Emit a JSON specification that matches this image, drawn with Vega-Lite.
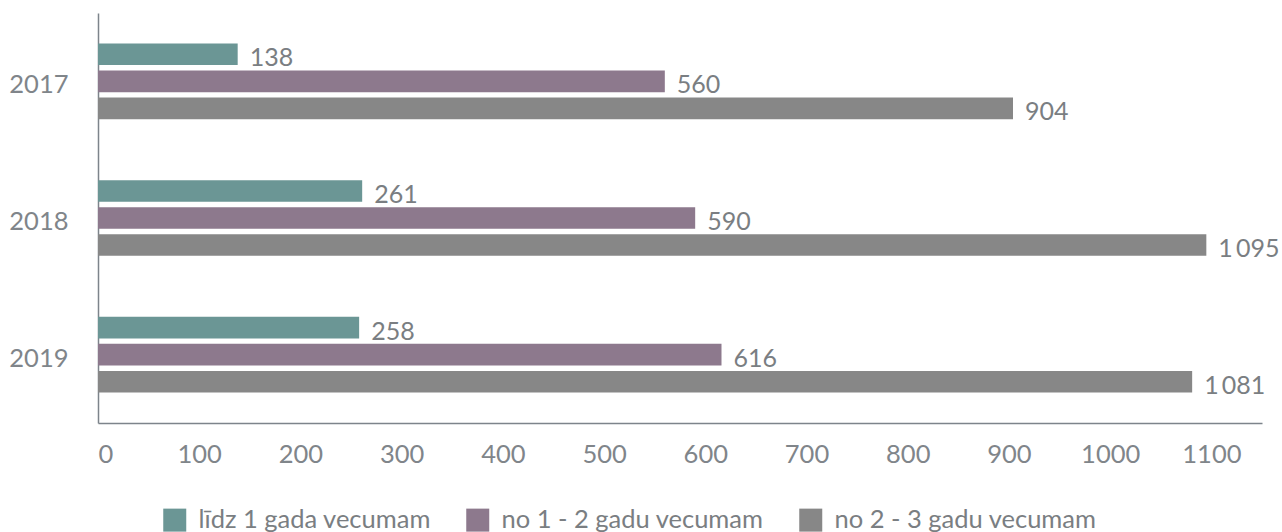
{
  "$schema": "https://vega.github.io/schema/vega-lite/v6.json",
  "width": 1164,
  "height": 410,
  "autosize": "none",
  "padding": {"left": 98, "top": 13, "right": 20, "bottom": 109},
  "config": {
    "locale": {"number": {"decimal": ",", "thousands": "\u2009", "grouping": [3], "currency": ["", ""]}},
    "view": {"stroke": null},
    "font": "Lato"
  },
  "data": {
    "values": [
      {"year": "2017", "group": "līdz 1 gada vecumam", "value": 138},
      {"year": "2017", "group": "no 1 - 2 gadu vecumam", "value": 560},
      {"year": "2017", "group": "no 2 - 3 gadu vecumam", "value": 904},
      {"year": "2018", "group": "līdz 1 gada vecumam", "value": 261},
      {"year": "2018", "group": "no 1 - 2 gadu vecumam", "value": 590},
      {"year": "2018", "group": "no 2 - 3 gadu vecumam", "value": 1095},
      {"year": "2019", "group": "līdz 1 gada vecumam", "value": 258},
      {"year": "2019", "group": "no 1 - 2 gadu vecumam", "value": 616},
      {"year": "2019", "group": "no 2 - 3 gadu vecumam", "value": 1081}
    ]
  },
  "encoding": {
    "y": {
      "field": "year", "type": "nominal", "title": null,
      "scale": {"paddingInner": 0.407, "paddingOuter": 0.2035},
      "axis": {"ticks": false, "domainColor": "#7d848b", "domainWidth": 1.5, "labelFontSize": 25.5, "labelColor": "#80858a", "labelPadding": 30, "labelFontWeight": "normal", "labelOffset": 4}
    },
    "yOffset": {
      "field": "group", "type": "nominal",
      "sort": ["līdz 1 gada vecumam", "no 1 - 2 gadu vecumam", "no 2 - 3 gadu vecumam"],
      "scale": {"paddingInner": 0.2, "paddingOuter": 0.1}
    },
    "x": {
      "field": "value", "type": "quantitative", "title": null,
      "scale": {"domain": [0, 1150], "nice": false},
      "axis": {"values": [0, 100, 200, 300, 400, 500, 600, 700, 800, 900, 1000, 1100], "format": "d", "ticks": false, "grid": false, "domainColor": "#7d848b", "domainWidth": 1.5, "labelFontSize": 25.5, "labelColor": "#80858a", "labelPadding": 19, "labelFontWeight": "normal"}
    }
  },
  "layer": [
    {
      "mark": {"type": "bar"},
      "encoding": {
        "color": {
          "field": "group", "type": "nominal",
          "sort": ["līdz 1 gada vecumam", "no 1 - 2 gadu vecumam", "no 2 - 3 gadu vecumam"],
          "scale": {"domain": ["līdz 1 gada vecumam", "no 1 - 2 gadu vecumam", "no 2 - 3 gadu vecumam"], "range": ["#6b9695", "#8d798d", "#878787"]},
          "legend": {"title": null, "orient": "none", "direction": "horizontal", "legendX": 64, "legendY": 494, "symbolType": "square", "symbolSize": 529, "symbolStrokeWidth": 0, "symbolOpacity": 1, "labelFontSize": 25.5, "labelColor": "#7a7e82", "labelFontWeight": "normal", "labelOffset": 11, "labelLimit": 400, "columnPadding": 34}
        }
      }
    },
    {
      "mark": {"type": "text", "align": "left", "baseline": "middle", "dx": 12, "dy": 4, "fontSize": 25, "fontWeight": "normal", "color": "#7a7e82"},
      "encoding": {"text": {"field": "value", "type": "quantitative", "format": ",d"}}
    }
  ]
}
